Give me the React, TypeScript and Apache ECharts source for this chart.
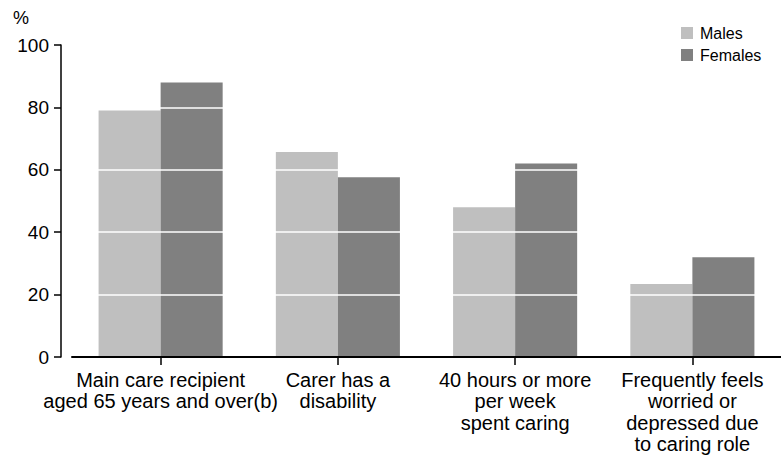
import React, { useEffect, useRef } from "react";
import * as echarts from "echarts";

// Carer characteristics by sex, per cent
const categories = [
  "Main care recipient\naged 65 years and over(b)",
  "Carer has a\ndisability",
  "40 hours or more\nper week\nspent caring",
  "Frequently feels\nworried or\ndepressed due\nto caring role",
];
const males = [79, 65.7, 48, 23.4];
const females = [88, 57.6, 62, 32];
const seriesNames = ["Males", "Females"];

const FONT = "'Liberation Sans', Arial, sans-serif";

export default function App() {
  const ref = useRef<HTMLDivElement>(null);

  useEffect(() => {
    if (!ref.current) return;
    const chart = echarts.init(ref.current, null, { renderer: "svg" });
    chart.setOption({
      animation: false,
      backgroundColor: "#ffffff",
      textStyle: { fontFamily: FONT, color: "#000" },
      grid: { left: 72, right: -8, top: 45, bottom: 108, containLabel: false },
      legend: {
        orient: "vertical",
        left: 681,
        top: 25,
        padding: 0,
        itemWidth: 12,
        itemHeight: 12,
        itemGap: 6,
        icon: "rect",
        data: seriesNames,
        textStyle: { fontFamily: FONT, fontSize: 16, color: "#000", padding: [0, 0, 0, 2] },
      },
      graphic: [
        {
          type: "text",
          left: 13,
          top: 9,
          style: { text: "%", fontFamily: FONT, fontSize: 18, fill: "#000" },
        },
      ],
      xAxis: {
        type: "category",
        data: categories,
        z: 4,
        axisLine: { show: true, lineStyle: { color: "#000", width: 2 } },
        axisTick: {
          show: true,
          alignWithLabel: true,
          length: 8,
          lineStyle: { color: "#000", width: 1.5 },
        },
        axisLabel: {
          interval: 0,
          margin: 12,
          fontFamily: FONT,
          fontSize: 20,
          lineHeight: 21.5,
          color: "#000",
          align: "center",
        },
        splitLine: { show: false },
      },
      yAxis: {
        type: "value",
        min: 0,
        max: 100,
        interval: 20,
        offset: 11,
        z: 3,
        axisLine: { show: true, lineStyle: { color: "#000", width: 1.5 } },
        axisTick: { show: true, length: 7, lineStyle: { color: "#000", width: 1.5 } },
        axisLabel: { margin: 12, fontFamily: FONT, fontSize: 19, color: "#000" },
        splitLine: {
          show: true,
          showMinLine: false,
          lineStyle: { color: "#ffffff", width: 1.5 },
        },
      },
      series: [
        {
          name: seriesNames[0],
          type: "bar",
          data: males,
          barGap: "0%",
          barCategoryGap: "30%",
          itemStyle: { color: "#bfbfbf" },
        },
        {
          name: seriesNames[1],
          type: "bar",
          data: females,
          barGap: "0%",
          barCategoryGap: "30%",
          itemStyle: { color: "#808080" },
        },
      ],
    });
    return () => chart.dispose();
  }, []);

  return (
    <div
      ref={ref}
      style={{ position: "fixed", left: 0, top: 0, width: 781, height: 465 }}
    />
  );
}
